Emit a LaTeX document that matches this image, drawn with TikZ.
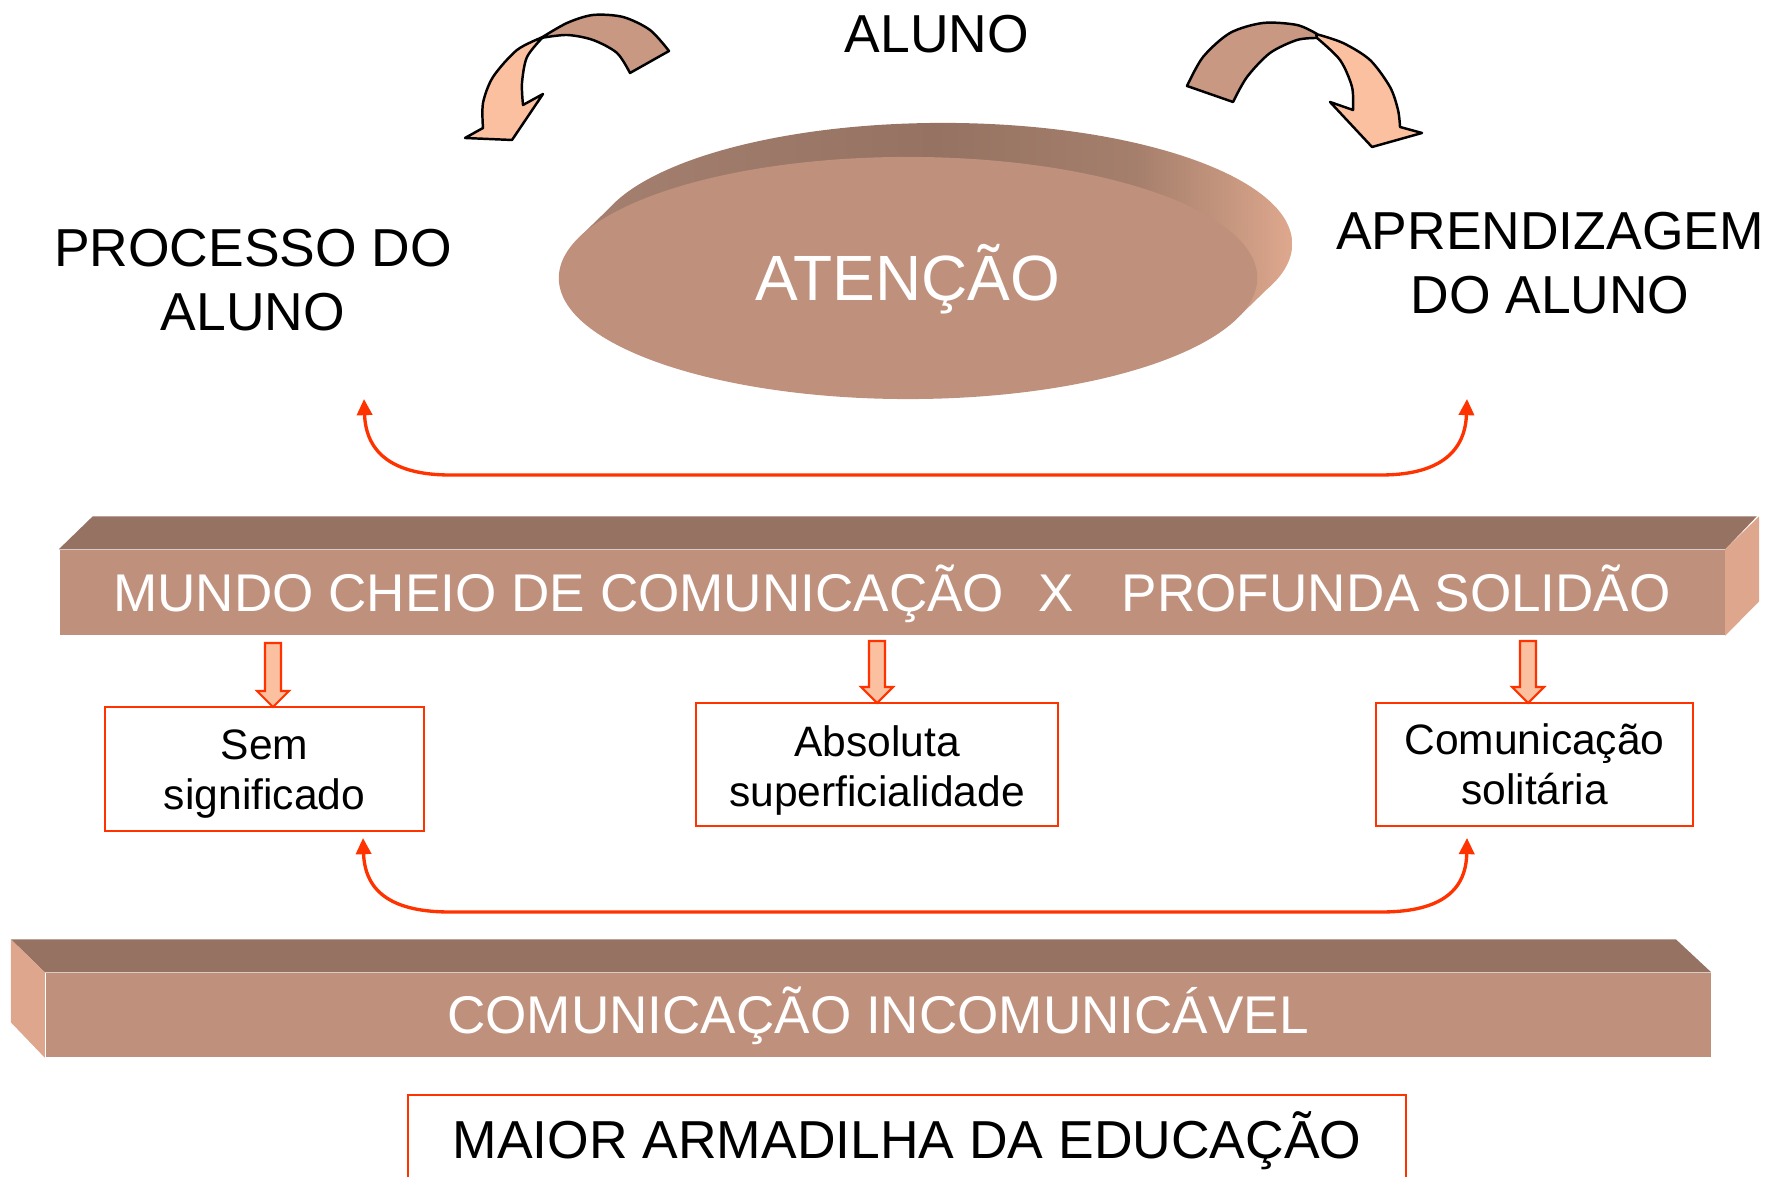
\documentclass[tikz,border=0pt]{standalone}
\usepackage{fontspec}
\setmainfont{Liberation Sans}
\usetikzlibrary{arrows.meta,shapes.geometric,calc}
\definecolor{bartop}{RGB}{149,114,98}
\definecolor{barfront}{RGB}{191,144,124}
\definecolor{barside}{RGB}{222,167,141}
\definecolor{arrdark}{RGB}{200,152,130}
\definecolor{arrlight}{RGB}{251,192,160}
\definecolor{redline}{RGB}{255,51,0}
\pgfdeclarehorizontalshading{extrusion}{100bp}{%
  color(0bp)=(rgb,255:red,165;green,128;blue,112);
  color(25bp)=(rgb,255:red,165;green,128;blue,112);
  color(50bp)=(rgb,255:red,149;green,114;blue,98);
  color(64bp)=(rgb,255:red,165;green,127;blue,108);
  color(71bp)=(rgb,255:red,200;green,152;blue,128);
  color(75bp)=(rgb,255:red,222;green,168;blue,142);
  color(100bp)=(rgb,255:red,222;green,168;blue,142)}
\newcommand\mydownarrow[3]{\filldraw[blockarr] (#1-8,#2) -- (#1+8,#2) -- (#1+8,#3-16) -- (#1+16,#3-16) -- (#1,#3) -- (#1-16,#3-16) -- (#1-8,#3-16) -- cycle;}
\begin{document}
\begin{tikzpicture}[x=0.01cm,y=-0.01cm,
  biglabel/.style={font=\fontsize{15.2}{18}\selectfont, align=center, inner sep=0pt},
  barbox/.style={fill=barfront, text=white, inner sep=0pt, font=\fontsize{15.1}{18}\selectfont, text height=10.8pt, text depth=0pt},
  smallbox/.style={draw=redline, line width=0.6pt, align=center, font=\fontsize{12.1}{14.2}\selectfont, inner sep=0pt},
  blockarr/.style={fill=arrlight, draw=redline, line width=0.6pt},
  curvedarr/.style={draw=black, line width=0.7pt, line join=round},
  redconn/.style={draw=redline, line width=0.95pt, arrows={Triangle[width=4.3pt,length=4.6pt]-Triangle[width=4.3pt,length=4.6pt]}}
]
\useasboundingbox (0,0) rectangle (1777,1177);
\clip (0,0) rectangle (1777,1177);

% ---- top label
\node[font=\fontsize{15.2}{18}\selectfont, inner sep=0pt, anchor=base] (aluno) at (937,53) {ALUNO};
\node[biglabel] (processo) at (253,280) {PROCESSO DO\\ALUNO};
\node[biglabel] (aprend) at (1550,263) {APRENDIZAGEM\\DO ALUNO};

% ---- ellipse with extrusion
\shade[shading=extrusion]
  (943,244) ellipse [x radius=3.49cm, y radius=1.21cm]
  (578.3,238.3) -- (1237.7,317.7) -- (1272.7,283.7) -- (613.3,204.3) -- cycle;
\node[ellipse, fill=barfront, minimum width=6.98cm, minimum height=2.42cm, inner sep=0pt,
      text=white, font=\fontsize{18.2}{20}\selectfont, text height=13pt, text depth=0pt] (att) at (908,278) {ATENÇÃO};

% ---- curved arrow, left
\filldraw[curvedarr, fill=arrdark]
  plot[smooth] coordinates {(541,38) (567,23) (593,15) (623,17) (650,30) (669,51)}
  -- (630,73)
  -- plot[smooth] coordinates {(630,73) (617,53) (593,40) (567,35) (541,38)} -- cycle;
\filldraw[curvedarr, fill=arrlight]
  plot[smooth] coordinates {(543,37) (517,50) (493,77) (483,103) (483,128)}
  -- (465,138) -- (512,140) -- (543,94) -- (523,105)
  -- plot[smooth] coordinates {(523,105) (522,83) (527,57) (543,37)} -- cycle;

% ---- curved arrow, right
\filldraw[curvedarr, fill=arrdark]
  plot[smooth] coordinates {(1187,86) (1203,57) (1230,33) (1263,23) (1297,25) (1317,34)}
  -- (1317,38)
  -- plot[smooth] coordinates {(1317,38) (1297,40) (1270,53) (1247,77) (1233,102)} -- cycle;
\filldraw[curvedarr, fill=arrlight]
  plot[smooth] coordinates {(1316,34) (1343,43) (1370,60) (1390,87) (1398,110) (1400,127)}
  -- (1422,133) -- (1372,147) -- (1330,102) -- (1353,110)
  -- plot[smooth] coordinates {(1353,110) (1352,87) (1340,60) (1317,38)} -- cycle;

% ---- upper red connector
\coordinate (ua) at (364,399);
\coordinate (ub) at (1467,399);
\draw[redconn] (ua) .. controls (366,455) and (396,475) .. (450,475) -- (1381,475) .. controls (1435,475) and (1465,455) .. (ub);

% ---- bar 1
\node[barbox, minimum width=16.64cm, minimum height=0.85cm] (bar1) at (892,592.5)
  {MUNDO CHEIO DE COMUNICAÇÃO\hspace{9.7pt}X\hspace{13.7pt}PROFUNDA SOLIDÃO};
\fill[bartop] (bar1.north west) -- ++(34,-33) -- ++(1664,0) -- (bar1.north east) -- cycle;
\fill[barside] (bar1.north east) -- ++(34,-33) -- ++(0,85) -- (bar1.south east) -- cycle;

% ---- small boxes
\node[smallbox, minimum width=3.19cm, minimum height=1.24cm] (box1) at (264.5,769) {\rule{0pt}{11.3pt}Sem\\significado};
\node[smallbox, minimum width=3.62cm, minimum height=1.23cm] (box2) at (877,764.5) {\rule{0pt}{12pt}Absoluta\\superficialidade};
\node[smallbox, minimum width=3.17cm, minimum height=1.23cm] (box3) at (1534.5,764.5) {Comunicação\\solitária};

\mydownarrow{273}{643}{707}
\mydownarrow{877}{641}{703}
\mydownarrow{1528}{641}{703}

% ---- lower red connector
\coordinate (la) at (363,838);
\coordinate (lb) at (1467,838);
\draw[redconn] (la) .. controls (365,894) and (395,912) .. (450,912) -- (1381,912) .. controls (1436,912) and (1466,894) .. (lb);

% ---- bar 2
\node[barbox, font=\fontsize{15.1}{18}\selectfont, minimum width=16.64cm, minimum height=0.84cm] (bar2) at (878,1015)
  {COMUNICAÇÃO INCOMUNICÁVEL};
\fill[bartop] (bar2.north west) -- ++(-34,-33) -- ++(1665,0) -- (bar2.north east) -- cycle;
\fill[barside] (bar2.north west) -- ++(-34,-33) -- ++(0,83) -- (bar2.south west) -- cycle;

% ---- bottom box
\node[draw=redline, line width=0.6pt, inner sep=0pt, minimum width=9.98cm, minimum height=0.88cm,
      font=\fontsize{15.2}{18}\selectfont, text height=10.9pt, text depth=0pt] (maior) at (907,1139)
  {MAIOR ARMADILHA DA EDUCAÇÃO};
\end{tikzpicture}
\end{document}
